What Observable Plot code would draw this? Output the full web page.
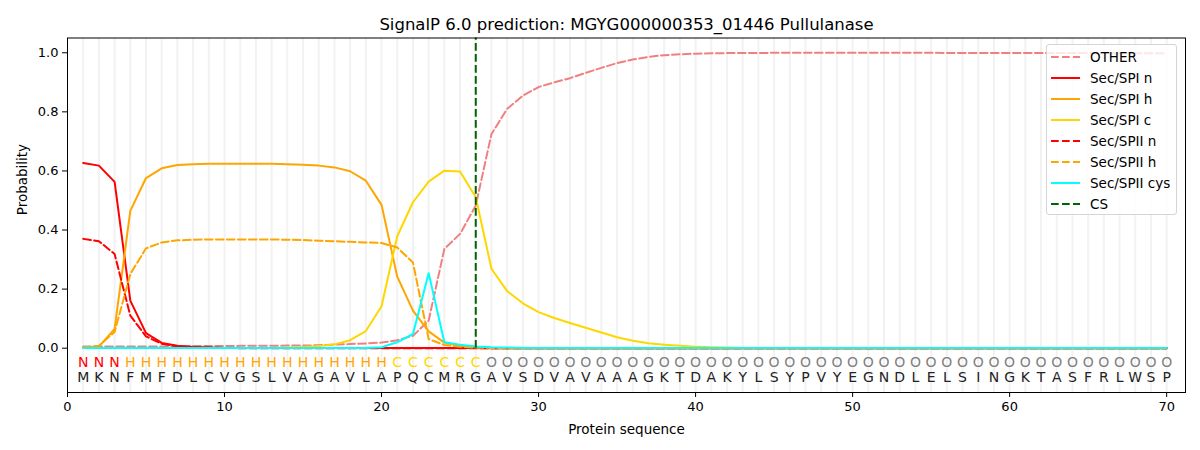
<!DOCTYPE html>
<html>
<head>
<meta charset="utf-8">
<script src="https://cdn.jsdelivr.net/npm/d3@7"></script>
<script src="https://cdn.jsdelivr.net/npm/@observablehq/plot@0.6"></script>
<style>
  html, body { margin: 0; padding: 0; background: #fff; }
  #wrap { position: relative; width: 1200px; height: 450px; font-family: "DejaVu Sans", sans-serif; }
  #legend { position: absolute; left: 1046px; top: 44px; width: 131px; height: 171px;
    border: 1px solid #d5d5d5; border-radius: 3px; background: rgba(255,255,255,0.8); box-sizing: border-box; }
  .row { position: absolute; left: 0; height: 20px; display: flex; align-items: center; font-size: 13.5px; color: #000; }
  .row svg { margin-left: 4px; margin-right: 10px; }
</style>
</head>
<body>
<div id="wrap"><div id="legend"></div></div>
<script>
const title = "SignalP 6.0 prediction: MGYG000000353_01446 Pullulanase";
const residues = "MKNFMFDLCVGSLVAGAVLAPQCMRGAVSDVAVAAAGKTDAKYLSYPVYEGNDLELSINGKTASFRLWSP";
const labels   = "NNNHHHHHHHHHHHHHHHHHCCCCCCOOOOOOOOOOOOOOOOOOOOOOOOOOOOOOOOOOOOOOOOOOOO";
const csPosition = 26;
const xTicks = [0, 10, 20, 30, 40, 50, 60, 70];
const yTicks = [0, 0.2, 0.4, 0.6, 0.8, 1.0];

const other = [0.006,0.006,0.006,0.006,0.006,0.006,0.007,0.007,0.007,0.007,
  0.008,0.008,0.008,0.009,0.009,0.010,0.012,0.014,0.016,0.019,
  0.027,0.042,0.093,0.336,0.387,0.483,0.725,0.810,0.855,0.884,
  0.900,0.914,0.932,0.949,0.965,0.977,0.986,0.992,0.995,0.997,
  0.998,0.999,0.999,0.999,1.000,1.000,1.000,1.000,1.000,1.000,
  1.000,1.000,1.000,1.000,1.000,0.999,0.999,0.999,0.999,0.999,
  0.999,0.999,0.999,0.999,0.999,0.998,0.998,0.998,0.998,0.998];
const spiN = [0.627,0.618,0.563,0.161,0.051,0.018,0.008,0.004,0.002,0.001,
  0.001,0.001,0.001,0.001,0.001,0.001,0.001,0.001,0.001,0.001,
  0.001,0.001,0.001,0.001,0.001,0.001,0,0,0,0,
  0,0,0,0,0,0,0,0,0,0, 0,0,0,0,0,0,0,0,0,0,
  0,0,0,0,0,0,0,0,0,0, 0,0,0,0,0,0,0,0,0,0];
const spiH = [0.002,0.005,0.065,0.465,0.576,0.609,0.620,0.623,0.624,0.624,
  0.624,0.624,0.624,0.623,0.621,0.618,0.612,0.599,0.567,0.485,
  0.242,0.127,0.057,0.019,0.008,0.003,0.001,0,0,0,
  0,0,0,0,0,0,0,0,0,0, 0,0,0,0,0,0,0,0,0,0,
  0,0,0,0,0,0,0,0,0,0, 0,0,0,0,0,0,0,0,0,0];
const spiC = [0.001,0.001,0.001,0.001,0.001,0.001,0.001,0.001,0.001,0.001,
  0.001,0.001,0.001,0.002,0.004,0.007,0.013,0.027,0.058,0.142,
  0.379,0.494,0.564,0.601,0.598,0.511,0.269,0.193,0.152,0.122,
  0.102,0.085,0.069,0.053,0.037,0.025,0.017,0.012,0.008,0.005,
  0.003,0.002,0.001,0.001,0.001,0.001,0.001,0.001,0.001,0.001,
  0.001,0.001,0.001,0.001,0.001,0.001,0.001,0.001,0.001,0.001,
  0.001,0.001,0.001,0.001,0.001,0.001,0.001,0.001,0.001,0.001];
const spiiN = [0.370,0.362,0.319,0.110,0.040,0.015,0.006,0.003,0.002,0.001,
  0,0,0,0,0,0,0,0,0,0, 0,0,0,0,0,0,0,0,0,0,
  0,0,0,0,0,0,0,0,0,0, 0,0,0,0,0,0,0,0,0,0,
  0,0,0,0,0,0,0,0,0,0, 0,0,0,0,0,0,0,0,0,0];
const spiiH = [0.002,0.008,0.055,0.251,0.338,0.358,0.365,0.367,0.368,0.368,
  0.368,0.368,0.368,0.367,0.366,0.364,0.362,0.360,0.358,0.356,
  0.341,0.290,0.031,0.011,0.005,0.002,0.001,0,0,0,
  0,0,0,0,0,0,0,0,0,0, 0,0,0,0,0,0,0,0,0,0,
  0,0,0,0,0,0,0,0,0,0, 0,0,0,0,0,0,0,0,0,0];
const spiiCys = [0.001,0.001,0.001,0.001,0.001,0.001,0.001,0.001,0.001,0.001,
  0.001,0.001,0.001,0.001,0.001,0.001,0.001,0.001,0.001,0.003,
  0.020,0.048,0.254,0.020,0.012,0.006,0.003,0.002,0.001,0.001,
  0.001,0.001,0.001,0.001,0.001,0.001,0.001,0.001,0.001,0.001,
  0.001,0.001,0.001,0.001,0.001,0.001,0.001,0.001,0.001,0.001,
  0.001,0.001,0.001,0.001,0.001,0.001,0.001,0.001,0.001,0.001,
  0.001,0.001,0.001,0.001,0.001,0.001,0.001,0.001,0.001,0.001];

const dash = "7.7,3.3";
const series = [
  {name: "OTHER", values: other, color: "#f08080", dash: dash},
  {name: "Sec/SPI n", values: spiN, color: "red", dash: null},
  {name: "Sec/SPI h", values: spiH, color: "orange", dash: null},
  {name: "Sec/SPI c", values: spiC, color: "gold", dash: null},
  {name: "Sec/SPII n", values: spiiN, color: "red", dash: dash},
  {name: "Sec/SPII h", values: spiiH, color: "orange", dash: dash},
  {name: "Sec/SPII cys", values: spiiCys, color: "cyan", dash: null}
];
const labelColor = {N: "red", H: "orange", C: "gold", O: "gray"};

const residueArr = residues.split("");
const labelArr = labels.split("");
const pos = (d, i) => i + 1;

const marks = [
  Plot.ruleX(residueArr, {x: pos, stroke: "#f2f2f2", strokeWidth: 2}),
  ...series.map(s => Plot.line(s.values, {x: pos, y: d => d, stroke: s.color, strokeWidth: 2, strokeDasharray: s.dash})),
  Plot.ruleX([csPosition], {y1: 0, y2: 1.05, stroke: "darkgreen", strokeWidth: 2, strokeDasharray: "7.7,3.3"}),
  Plot.text(labelArr, {x: pos, y: -0.047, text: d => d, fill: d => labelColor[d], fontSize: 14}),
  Plot.text(residueArr, {x: pos, y: -0.098, text: d => d, fill: "#222", fontSize: 14}),
  Plot.frame({stroke: "black", strokeWidth: 1}),
  Plot.axisX({ticks: xTicks, tickSize: 5, tickPadding: 4, fontSize: 13, label: null, tickFormat: d3.format("d")}),
  Plot.axisY({ticks: yTicks, tickSize: 5, tickPadding: 4, fontSize: 13, label: null, tickFormat: d3.format(".1f")}),
  Plot.text([title], {frameAnchor: "top", dy: -20, fontSize: 16.5, fill: "black"}),
  Plot.text(["Protein sequence"], {frameAnchor: "bottom", dy: 41, fontSize: 13.5, fill: "black"}),
  Plot.text(["Probability"], {frameAnchor: "left", dx: -45, rotate: -90, fontSize: 13.5, fill: "black"})
];

const chart = Plot.plot({
  width: 1200, height: 450,
  marginLeft: 67, marginRight: 15, marginTop: 37.5, marginBottom: 58,
  x: {domain: [0, 71.2]},
  y: {domain: [-0.15, 1.05]},
  style: {fontFamily: "DejaVu Sans, sans-serif", background: "white", color: "black"},
  marks
});
document.getElementById("wrap").prepend(chart);

const legendEntries = [
  ...series.map(s => ({name: s.name, color: s.color, dash: s.dash})),
  {name: "CS", color: "darkgreen", dash: dash}
];
const legend = document.getElementById("legend");
legendEntries.forEach((e, i) => {
  const row = document.createElement("div");
  row.className = "row";
  row.style.top = (2 + i * 21) + "px";
  row.innerHTML = `<svg width="29" height="6"><line x1="0" x2="29" y1="3" y2="3" stroke="${e.color}" stroke-width="2" ${e.dash ? `stroke-dasharray="${e.dash}"` : ""}/></svg><span></span>`;
  row.querySelector("span").textContent = e.name;
  legend.appendChild(row);
});
</script>
</body>
</html>
